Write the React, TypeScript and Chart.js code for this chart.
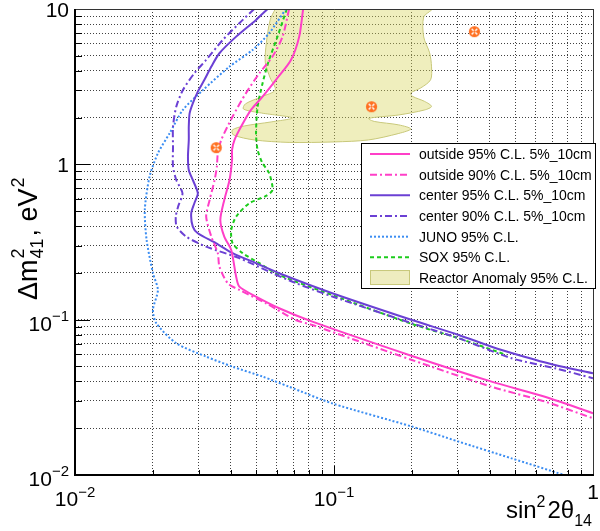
import React, { useEffect, useRef } from 'react';
import { Chart, registerables } from 'chart.js';

Chart.register(...registerables);

// ---------- axis ranges / ticks ----------
const xRange = [0.01, 1];
const yRange = [0.01, 10];
const gridX = [0.01, 0.02, 0.03, 0.04, 0.05, 0.06, 0.07, 0.08, 0.09, 0.1, 0.2, 0.3, 0.4, 0.5, 0.6, 0.7, 0.8, 0.9, 1];
const gridY = [0.01, 0.02, 0.03, 0.04, 0.05, 0.06, 0.07, 0.08, 0.09, 0.1, 0.2, 0.3, 0.4, 0.5, 0.6, 0.7, 0.8, 0.9, 1, 2, 3, 4, 5, 6, 7, 8, 9, 10];
const xMajor = [0.01, 0.1, 1];
const yMajor = [0.01, 0.1, 1, 10];
const xLabelValues = [0.01, 0.1, 1];
const xLabelBase = ['10', '10', '1'];
const xLabelExp = ['\u22122', '\u22121', ''];
const yLabelValues = [0.01, 0.1, 1, 10];
const yLabelBase = ['10', '10', '1', '10'];
const yLabelExp = ['\u22122', '\u22121', '', ''];

// ---------- series ----------
const outside95X = [0.0760, 0.0734, 0.0682, 0.0597, 0.0530, 0.0478, 0.0438, 0.0413, 0.0404, 0.0404, 0.0395, 0.0377, 0.0364, 0.0377, 0.0401, 0.0419, 0.0431, 0.0500, 0.0614, 0.0825, 0.200, 0.406, 0.652, 1.0];
const outside95Y = [10, 6.64, 4.70, 3.50, 2.73, 2.24, 1.75, 1.436, 1.238, 1.067, 0.793, 0.590, 0.4385, 0.3423, 0.2811, 0.1891, 0.1631, 0.1406, 0.1184, 0.0971, 0.0584, 0.0399, 0.0319, 0.0250];

const outside90X = [0.0671, 0.0633, 0.0579, 0.0515, 0.0457, 0.0406, 0.0367, 0.0356, 0.0353, 0.0346, 0.0331, 0.0321, 0.0336, 0.0356, 0.0361, 0.0389, 0.0431, 0.0546, 0.0712, 0.0825, 0.200, 0.406, 0.652, 1.0];
const outside90Y = [10, 6.64, 4.94, 3.86, 2.87, 2.03, 1.436, 1.179, 0.967, 0.793, 0.590, 0.4605, 0.3423, 0.2677, 0.2195, 0.1715, 0.1553, 0.1275, 0.0995, 0.0924, 0.0550, 0.0370, 0.0297, 0.0232];

const center95X = [0.0554, 0.0500, 0.0419, 0.0361, 0.0336, 0.0316, 0.0298, 0.0285, 0.0277, 0.0275, 0.0275, 0.0273, 0.0275, 0.0285, 0.0298, 0.0289, 0.0281, 0.0285, 0.0298, 0.0351, 0.0406, 0.0500, 0.0614, 0.0985, 0.200, 0.303, 0.406, 0.515, 0.712, 1.0];
const center95Y = [10, 8.51, 6.64, 5.19, 4.26, 3.50, 2.94, 2.47, 2.13, 1.75, 1.436, 1.121, 0.920, 0.793, 0.651, 0.562, 0.484, 0.397, 0.360, 0.310, 0.268, 0.231, 0.199, 0.148, 0.0995, 0.0797, 0.0670, 0.0593, 0.0511, 0.0452];

const center90X = [0.0492, 0.0431, 0.0372, 0.0321, 0.0289, 0.0261, 0.0246, 0.0239, 0.0239, 0.0239, 0.0246, 0.0260, 0.0250, 0.0245, 0.0247, 0.0269, 0.0321, 0.0431, 0.0579, 0.0712, 0.0985, 0.200, 0.303, 0.485, 0.712, 1.0];
const center90Y = [10, 8.10, 6.32, 4.70, 3.86, 3.01, 2.35, 1.75, 1.30, 0.967, 0.793, 0.651, 0.534, 0.461, 0.397, 0.342, 0.295, 0.249, 0.199, 0.172, 0.141, 0.0948, 0.0759, 0.0564, 0.0487, 0.0420];

const junoX = [0.0652, 0.0562, 0.0485, 0.0395, 0.0312, 0.0261, 0.0232, 0.0209, 0.0194, 0.0186, 0.0189, 0.0200, 0.0209, 0.0200, 0.0206, 0.0246, 0.0321, 0.0406, 0.0530, 0.0671, 0.0985, 0.200, 0.303, 0.485, 0.774];
const junoY = [10, 6.99, 5.45, 4.26, 3.01, 2.24, 1.586, 1.179, 0.833, 0.509, 0.326, 0.199, 0.155, 0.116, 0.0948, 0.0705, 0.0578, 0.0498, 0.0430, 0.0370, 0.0289, 0.0205, 0.0164, 0.0128, 0.0100];

const soxX = [0.0657, 0.0605, 0.0558, 0.0530, 0.0507, 0.0500, 0.0507, 0.0529, 0.0562, 0.0579, 0.0546, 0.0471, 0.0419, 0.0401, 0.0406, 0.0444, 0.0515, 0.0614, 0.0985, 0.200, 0.303, 0.463];
const soxY = [10, 6.64, 4.56, 3.33, 2.35, 1.586, 1.238, 1.021, 0.876, 0.684, 0.626, 0.562, 0.461, 0.378, 0.310, 0.268, 0.231, 0.194, 0.144, 0.0938, 0.0759, 0.0593];

const reactorX = [0.0593, 0.0567, 0.0548, 0.0543, 0.0567, 0.0593, 0.0524, 0.0455, 0.0447, 0.0524, 0.0690, 0.0572, 0.0451, 0.0405, 0.0409, 0.0492, 0.0671, 0.100, 0.136, 0.178, 0.198, 0.178, 0.143, 0.136, 0.178, 0.224, 0.238, 0.224, 0.201, 0.198, 0.216, 0.236, 0.238, 0.234, 0.222, 0.222, 0.238, 0.0593];
const reactorY = [10, 8.51, 6.05, 4.50, 3.60, 3.01, 2.72, 2.45, 2.27, 2.14, 1.99, 1.875, 1.767, 1.665, 1.546, 1.436, 1.384, 1.394, 1.436, 1.581, 1.690, 1.794, 1.889, 1.975, 2.08, 2.24, 2.36, 2.54, 2.74, 2.88, 3.10, 3.50, 4.24, 5.22, 6.61, 8.89, 10, 10];

const markerX = [0.0351, 0.1396, 0.3485];
const markerY = [1.28, 2.35, 7.15];

const legendLabels = [
  'outside 95% C.L. 5%_10cm',
  'outside 90% C.L. 5%_10cm',
  'center 95% C.L. 5%_10cm',
  'center 90% C.L. 5%_10cm',
  'JUNO 95% C.L.',
  'SOX 95% C.L.',
  'Reactor Anomaly 95% C.L.',
];

const FONT = "'Liberation Sans', Arial, Helvetica, sans-serif";
const MAGENTA = '#ff3fc8';
const PURPLE = '#6b40d4';
const BLUE = '#3b8df2';
const GREEN = '#1ccc1c';

const pts = (xs: number[], ys: number[]) => xs.map((x, i) => ({ x, y: ys[i] }));

function makeMarker(): HTMLCanvasElement {
  const c = document.createElement('canvas');
  c.width = 13;
  c.height = 13;
  const g = c.getContext('2d')!;
  g.fillStyle = '#ff7020';
  g.beginPath();
  g.arc(6.5, 6.5, 5.6, 0, Math.PI * 2);
  g.fill();
  g.strokeStyle = '#ffffff';
  g.lineWidth = 1.5;
  g.beginPath();
  g.moveTo(3.7, 3.7); g.lineTo(9.3, 9.3);
  g.moveTo(9.3, 3.7); g.lineTo(3.7, 9.3);
  g.stroke();
  g.fillStyle = '#ff7020';
  g.beginPath();
  g.arc(6.5, 6.5, 1.2, 0, Math.PI * 2);
  g.fill();
  return c;
}

type Run = { t: string; size: number; dy: number; gap?: number };

function runsWidth(ctx: CanvasRenderingContext2D, runs: Run[]) {
  let w = 0;
  for (const r of runs) {
    ctx.font = `${r.size}px ${FONT}`;
    w += ctx.measureText(r.t).width + (r.gap || 0);
  }
  return w;
}

function drawRuns(ctx: CanvasRenderingContext2D, x: number, y: number, runs: Run[]) {
  let cx = x;
  for (const r of runs) {
    ctx.font = `${r.size}px ${FONT}`;
    ctx.textAlign = 'left';
    ctx.textBaseline = 'alphabetic';
    ctx.fillText(r.t, cx, y + r.dy);
    cx += ctx.measureText(r.t).width + (r.gap || 0);
  }
  return cx;
}

const decorPlugin = {
  id: 'rootDecor',
  afterDraw(chart: any) {
    const ctx: CanvasRenderingContext2D = chart.ctx;
    const { left, right, top, bottom } = chart.chartArea;
    const sx = chart.scales.x;
    const sy = chart.scales.y;
    ctx.save();
    ctx.fillStyle = '#000';
    ctx.strokeStyle = '#000';
    ctx.setLineDash([]);

    // tick marks
    ctx.lineWidth = 1;
    for (const v of gridY) {
      const y = Math.round(sy.getPixelForValue(v)) + 0.5;
      const len = yMajor.includes(v) ? 15 : 7;
      ctx.beginPath();
      ctx.moveTo(left, y);
      ctx.lineTo(left + len, y);
      ctx.stroke();
    }
    for (const v of gridX) {
      const x = Math.round(sx.getPixelForValue(v)) + 0.5;
      const len = xMajor.includes(v) ? 9 : 5;
      ctx.beginPath();
      ctx.moveTo(x, bottom);
      ctx.lineTo(x, bottom - len);
      ctx.stroke();
    }

    // frame
    ctx.lineWidth = 1;
    ctx.strokeStyle = '#333';
    ctx.beginPath();
    ctx.moveTo(left, top + 0.5); ctx.lineTo(right + 0.5, top + 0.5);
    ctx.lineTo(right + 0.5, bottom);
    ctx.stroke();
    ctx.strokeStyle = '#000';
    ctx.lineWidth = 2;
    ctx.beginPath();
    ctx.moveTo(left, top); ctx.lineTo(left, bottom); ctx.lineTo(right + 1, bottom);
    ctx.stroke();

    // x tick labels
    xLabelValues.forEach((v, i) => {
      const px = sx.getPixelForValue(v);
      const runs: Run[] = xLabelExp[i]
        ? [{ t: xLabelBase[i], size: 21, dy: 0 }, { t: xLabelExp[i], size: 15, dy: -9 }]
        : [{ t: xLabelBase[i], size: 21, dy: -7 }];
      const w = runsWidth(ctx, runs);
      drawRuns(ctx, px - w / 2, bottom + 31, runs);
    });
    // y tick labels
    yLabelValues.forEach((v, i) => {
      const py = sy.getPixelForValue(v);
      const runs: Run[] = yLabelExp[i]
        ? [{ t: yLabelBase[i], size: 21, dy: 11 }, { t: yLabelExp[i], size: 15, dy: 1 }]
        : [{ t: yLabelBase[i], size: 21, dy: 7.5 }];
      const w = runsWidth(ctx, runs);
      drawRuns(ctx, left - 6 - w, py, runs);
    });

    // x title
    const xt: Run[] = [
      { t: 'sin', size: 24, dy: 0 },
      { t: '2', size: 16, dy: -11, gap: 2 },
      { t: '2\u03b8', size: 24, dy: 0 },
      { t: '14', size: 16, dy: 8 },
    ];
    const xw = runsWidth(ctx, xt);
    drawRuns(ctx, right - 1 - xw, bottom + 43, xt);

    // y title (rotated)
    ctx.save();
    ctx.translate(37, 300);
    ctx.rotate(-Math.PI / 2);
    let cx = drawRuns(ctx, 0, 0, [{ t: '\u0394m', size: 27, dy: 0 }]);
    ctx.font = `18px ${FONT}`;
    const w41 = ctx.measureText('41').width;
    ctx.fillText('2', cx + 1, -13);
    ctx.fillText('41', cx + 1, 6);
    cx += w41 + 3;
    cx = drawRuns(ctx, cx, 0, [{ t: ', eV', size: 27, dy: 0 }]);
    drawRuns(ctx, cx + 1, 0, [{ t: '2', size: 18, dy: -13 }]);
    ctx.restore();

    // legend
    const lx0 = 361.5, ly0 = 143.5, lx1 = 595.5, ly1 = 288.5;
    ctx.fillStyle = '#fff';
    ctx.fillRect(lx0, ly0, lx1 - lx0, ly1 - ly0);
    ctx.strokeStyle = '#000';
    ctx.lineWidth = 1;
    ctx.strokeRect(lx0, ly0, lx1 - lx0, ly1 - ly0);
    const dsIdx = [1, 2, 3, 4, 5, 6, 7];
    dsIdx.forEach((di, row) => {
      const ds = chart.data.datasets[di];
      const cy = 154 + row * 20.67;
      if (ds.fill) {
        ctx.fillStyle = '#eeecbf';
        ctx.fillRect(370.5, cy - 7.5, 39, 14);
        ctx.strokeStyle = '#c8c87a';
        ctx.lineWidth = 1;
        ctx.setLineDash([]);
        ctx.strokeRect(370.5, cy - 7.5, 39, 14);
      } else {
        ctx.strokeStyle = ds.borderColor;
        ctx.lineWidth = ds.borderWidth;
        ctx.setLineDash(ds.borderDash || []);
        ctx.beginPath();
        ctx.moveTo(370, cy);
        ctx.lineTo(410, cy);
        ctx.stroke();
        ctx.setLineDash([]);
      }
      ctx.fillStyle = '#000';
      ctx.font = `14px ${FONT}`;
      ctx.textAlign = 'left';
      ctx.textBaseline = 'alphabetic';
      ctx.fillText(legendLabels[row], 419, cy + 5);
    });
    ctx.restore();
  },
};

export default function App() {
  const ref = useRef<HTMLCanvasElement | null>(null);
  useEffect(() => {
    if (!ref.current) return;
    const marker = makeMarker();
    const lineDs = (label: string, xs: number[], ys: number[], color: string, dash: number[], width = 2) => ({
      label,
      data: pts(xs, ys),
      showLine: true,
      borderColor: color,
      borderWidth: width,
      borderDash: dash,
      pointRadius: 0,
      fill: false,
      tension: 0.25,
    });
    const chart = new Chart(ref.current, {
      type: 'scatter',
      data: {
        datasets: [
          {
            label: 'best fit',
            data: pts(markerX, markerY),
            showLine: false,
            pointStyle: marker as any,
            pointRadius: 6,
          } as any,
          lineDs(legendLabels[0], outside95X, outside95Y, MAGENTA, []),
          lineDs(legendLabels[1], outside90X, outside90Y, MAGENTA, [7, 3, 2, 3]),
          lineDs(legendLabels[2], center95X, center95Y, PURPLE, []),
          lineDs(legendLabels[3], center90X, center90Y, PURPLE, [7, 3, 2, 3]),
          lineDs(legendLabels[4], junoX, junoY, BLUE, [2, 2]),
          lineDs(legendLabels[5], soxX, soxY, GREEN, [4, 3]),
          {
            label: legendLabels[6],
            data: pts(reactorX, reactorY),
            showLine: true,
            borderColor: '#c8c87a',
            borderWidth: 1,
            backgroundColor: 'rgba(214,212,90,0.4)',
            fill: 'shape',
            pointRadius: 0,
            tension: 0.3,
          } as any,
        ],
      },
      options: {
        responsive: false,
        animation: false,
        layout: { padding: { left: 75, right: 5, top: 9, bottom: 56 } },
        plugins: { legend: { display: false }, tooltip: { enabled: false } },
        scales: {
          x: {
            type: 'logarithmic',
            min: xRange[0],
            max: xRange[1],
            afterBuildTicks: (s: any) => { s.ticks = gridX.map((v) => ({ value: v })); },
            ticks: { display: false },
            grid: { color: 'rgba(0,0,0,0.75)', lineWidth: 1, drawTicks: false },
            border: { display: false, dash: [1, 2] },
          },
          y: {
            type: 'logarithmic',
            min: yRange[0],
            max: yRange[1],
            afterBuildTicks: (s: any) => { s.ticks = gridY.map((v) => ({ value: v })); },
            ticks: { display: false },
            grid: { color: 'rgba(0,0,0,0.75)', lineWidth: 1, drawTicks: false },
            border: { display: false, dash: [1, 2] },
          },
        },
      } as any,
      plugins: [decorPlugin],
    });
    return () => chart.destroy();
  }, []);
  return (
    <div style={{ position: 'absolute', left: 0, top: 0, width: 600, height: 531, background: '#fff' }}>
      <canvas ref={ref} width={600} height={531} style={{ display: 'block' }} />
    </div>
  );
}
